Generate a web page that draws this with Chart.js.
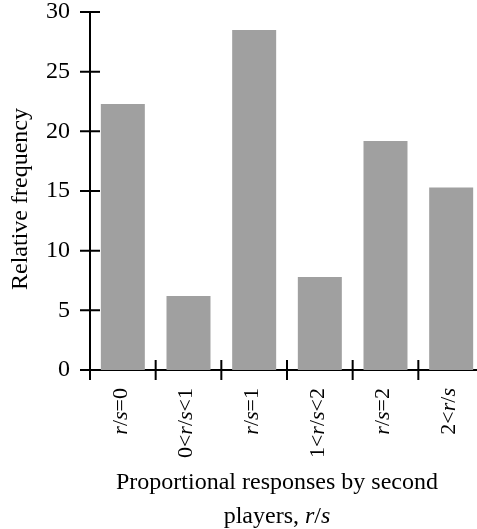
<!DOCTYPE html>
<html>
<head>
<meta charset="utf-8">
<script src="https://cdn.jsdelivr.net/npm/chart.js@4"></script>
<style>
  html, body { margin: 0; padding: 0; background: #fff; overflow: hidden; }
  #wrap { width: 477px; height: 529px; overflow: hidden; }
</style>
</head>
<body>
<div id="wrap"><canvas id="chart" width="490" height="529"></canvas></div>
<script>
const categories = ['r/s=0', '0<r/s<1', 'r/s=1', '1<r/s<2', 'r/s=2', '2<r/s'];
const frequency = [22.3, 6.2, 28.5, 7.8, 19.2, 15.3];
const yTicks = [0, 5, 10, 15, 20, 25, 30];
const yTitle = 'Relative frequency';
const xTitle = ['Proportional responses by second', 'players, r/s'];

const serif = "'Liberation Serif', 'Times New Roman', serif";

// split text so that the variables in "r/s" come out in italics
function runsOf(text) {
  const runs = [];
  text.split('r/s').forEach((part, i) => {
    if (i > 0) runs.push({ t: 'r', it: true }, { t: '/', it: false }, { t: 's', it: true });
    if (part) runs.push({ t: part, it: false });
  });
  return runs;
}

function drawRich(ctx, text, x, y, align, size) {
  const runs = runsOf(text);
  let w = 0;
  runs.forEach(r => {
    ctx.font = (r.it ? 'italic ' : '') + size + 'px ' + serif;
    r.w = ctx.measureText(r.t).width;
    w += r.w;
  });
  let cx = align === 'right' ? x - w : align === 'center' ? x - w / 2 : x;
  ctx.textAlign = 'left';
  runs.forEach(r => {
    ctx.font = (r.it ? 'italic ' : '') + size + 'px ' + serif;
    ctx.fillText(r.t, cx, y);
    cx += r.w;
  });
}

const axisDecor = {
  id: 'axisDecor',
  afterDraw(chart) {
    const { ctx, chartArea } = chart;
    const x = chart.scales.x, y = chart.scales.y;
    ctx.save();
    ctx.strokeStyle = '#000';
    ctx.lineWidth = 2;
    ctx.beginPath();
    yTicks.forEach(v => {
      const py = y.getPixelForValue(v);
      ctx.moveTo(chartArea.left - 10, py);
      ctx.lineTo(chartArea.left + 10, py);
    });
    const half = (x.getPixelForValue(1) - x.getPixelForValue(0)) / 2;
    categories.forEach((c, i) => {
      const px = x.getPixelForValue(i) - half;
      ctx.moveTo(px, chartArea.bottom - 10);
      ctx.lineTo(px, chartArea.bottom + 10);
    });
    ctx.stroke();

    ctx.fillStyle = '#000';
    ctx.textBaseline = 'middle';
    categories.forEach((c, i) => {
      ctx.save();
      ctx.translate(x.getPixelForValue(i) - 2, chartArea.bottom + 18);
      ctx.rotate(-Math.PI / 2);
      drawRich(ctx, c, 0, 0, 'right', 22);
      ctx.restore();
    });

    // y title
    ctx.save();
    ctx.translate(21, 199);
    ctx.rotate(-Math.PI / 2);
    drawRich(ctx, yTitle, 0, 0, 'center', 24);
    ctx.restore();

    // x title
    const tx = chartArea.left + 187;
    drawRich(ctx, xTitle[0], tx, 483, 'center', 24);
    drawRich(ctx, xTitle[1], tx, 517, 'center', 24);
    ctx.restore();
  }
};

new Chart(document.getElementById('chart'), {
  type: 'bar',
  data: {
    labels: categories,
    datasets: [{
      data: frequency,
      backgroundColor: '#a0a0a0',
      borderWidth: 0,
      barPercentage: 0.67,
      categoryPercentage: 1
    }]
  },
  options: {
    responsive: false,
    animation: false,
    layout: { padding: { top: 12, right: 6, left: 0, bottom: 0 } },
    plugins: { legend: { display: false }, tooltip: { enabled: false } },
    scales: {
      x: {
        grid: { display: false, drawTicks: false },
        border: { display: true, color: '#000', width: 2 },
        ticks: { display: false },
        afterFit: s => { s.height = 159; s.paddingLeft = 0; s.paddingRight = 0; }
      },
      y: {
        min: 0,
        max: 30,
        grid: { display: false, drawTicks: false },
        border: { display: true, color: '#000', width: 2 },
        ticks: {
          stepSize: 5,
          padding: 20,
          color: '#000',
          font: { family: serif, size: 24 }
        },
        afterFit: s => { s.width = 90; s.paddingTop = 0; s.paddingBottom = 0; }
      }
    }
  },
  plugins: [axisDecor]
});
</script>
</body>
</html>
